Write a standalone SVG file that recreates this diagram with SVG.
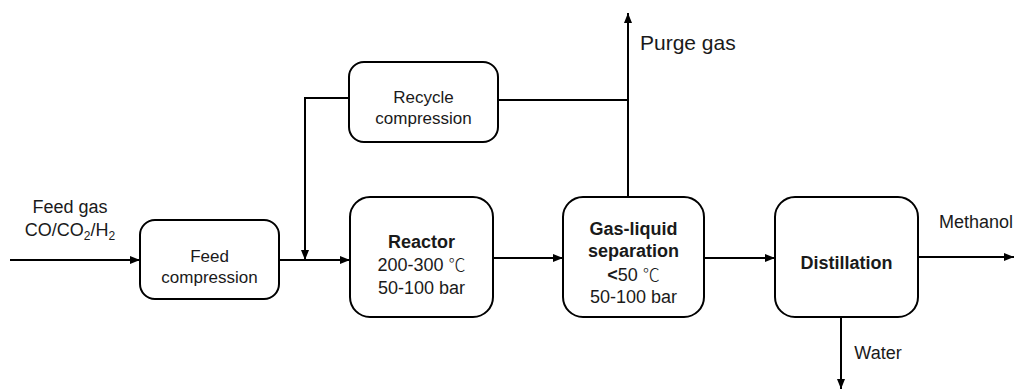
<svg xmlns="http://www.w3.org/2000/svg" width="1016" height="389" viewBox="0 0 1016 389">
<style>
.box{fill:#fff;stroke:#000;stroke-width:2}
.ln{fill:none;stroke:#000;stroke-width:2}
text{font-family:"Liberation Sans",Arial,"Noto Sans CJK SC",sans-serif;fill:#1a1a1a;text-anchor:middle}
.t{font-size:17px}
.m{font-size:18px}
.b{font-size:18px;font-weight:bold}
.p{font-size:21px;text-anchor:start}
.c{font-family:"Noto Sans CJK SC",sans-serif;font-weight:300;font-size:17px}
</style>
<defs>
<marker id="ah" viewBox="0 0 10 8" refX="10" refY="4" markerWidth="10" markerHeight="8" markerUnits="userSpaceOnUse" orient="auto">
<path d="M0,0 L10,4 L0,8 Z" fill="#000"/>
</marker>
</defs>
<rect width="1016" height="389" fill="#fff"/>
<g id="connectors">
<path class="ln" d="M10,260 H140" marker-end="url(#ah)"/>
<path class="ln" d="M279,260 H350" marker-end="url(#ah)"/>
<path class="ln" d="M349,98 H305 V260" marker-end="url(#ah)"/>
<path class="ln" d="M493,258 H563" marker-end="url(#ah)"/>
<path class="ln" d="M704,258 H775" marker-end="url(#ah)"/>
<path class="ln" d="M498,100 H628"/>
<path class="ln" d="M628,197 V13" marker-end="url(#ah)"/>
<path class="ln" d="M918,257 H1014" marker-end="url(#ah)"/>
<path class="ln" d="M841,317 V389" marker-end="url(#ah)"/>
</g>
<g id="labels">
<text class="m" x="70" y="213">Feed gas</text>
<text class="m" x="70" y="236">CO/CO<tspan font-size="12" dy="4">2</tspan><tspan dy="-4">/H</tspan><tspan font-size="12" dy="4">2</tspan></text>
<text class="p" x="640" y="50">Purge gas</text>
<text class="m" x="976" y="228">Methanol</text>
<text class="m" x="878" y="359">Water</text>
</g>
<g id="feed-compression">
<rect class="box" x="140" y="220" width="139" height="79" rx="15"/>
<text class="t" x="209.5" y="262">Feed</text>
<text class="t" x="209.5" y="283">compression</text>
</g>
<g id="recycle-compression">
<rect class="box" x="349" y="62" width="149" height="80" rx="15"/>
<text class="t" x="423.5" y="103">Recycle</text>
<text class="t" x="423.5" y="124">compression</text>
</g>
<g id="reactor">
<rect class="box" x="350" y="197" width="143" height="120" rx="20"/>
<text class="b" x="421.5" y="248">Reactor</text>
<text class="m" x="421.5" y="271">200-300 <tspan class="c">℃</tspan></text>
<text class="m" x="421.5" y="294">50-100 bar</text>
</g>
<g id="gas-liquid-separation">
<rect class="box" x="563" y="197" width="141" height="120" rx="20"/>
<text class="b" x="633.5" y="235">Gas-liquid</text>
<text class="b" x="633.5" y="257">separation</text>
<text class="m" x="633.5" y="281"><tspan font-weight="bold">&lt;</tspan>50 <tspan class="c">℃</tspan></text>
<text class="m" x="633.5" y="303">50-100 bar</text>
</g>
<g id="distillation">
<rect class="box" x="775" y="197" width="143" height="120" rx="20"/>
<text class="b" x="846.5" y="269">Distillation</text>
</g>
</svg>
